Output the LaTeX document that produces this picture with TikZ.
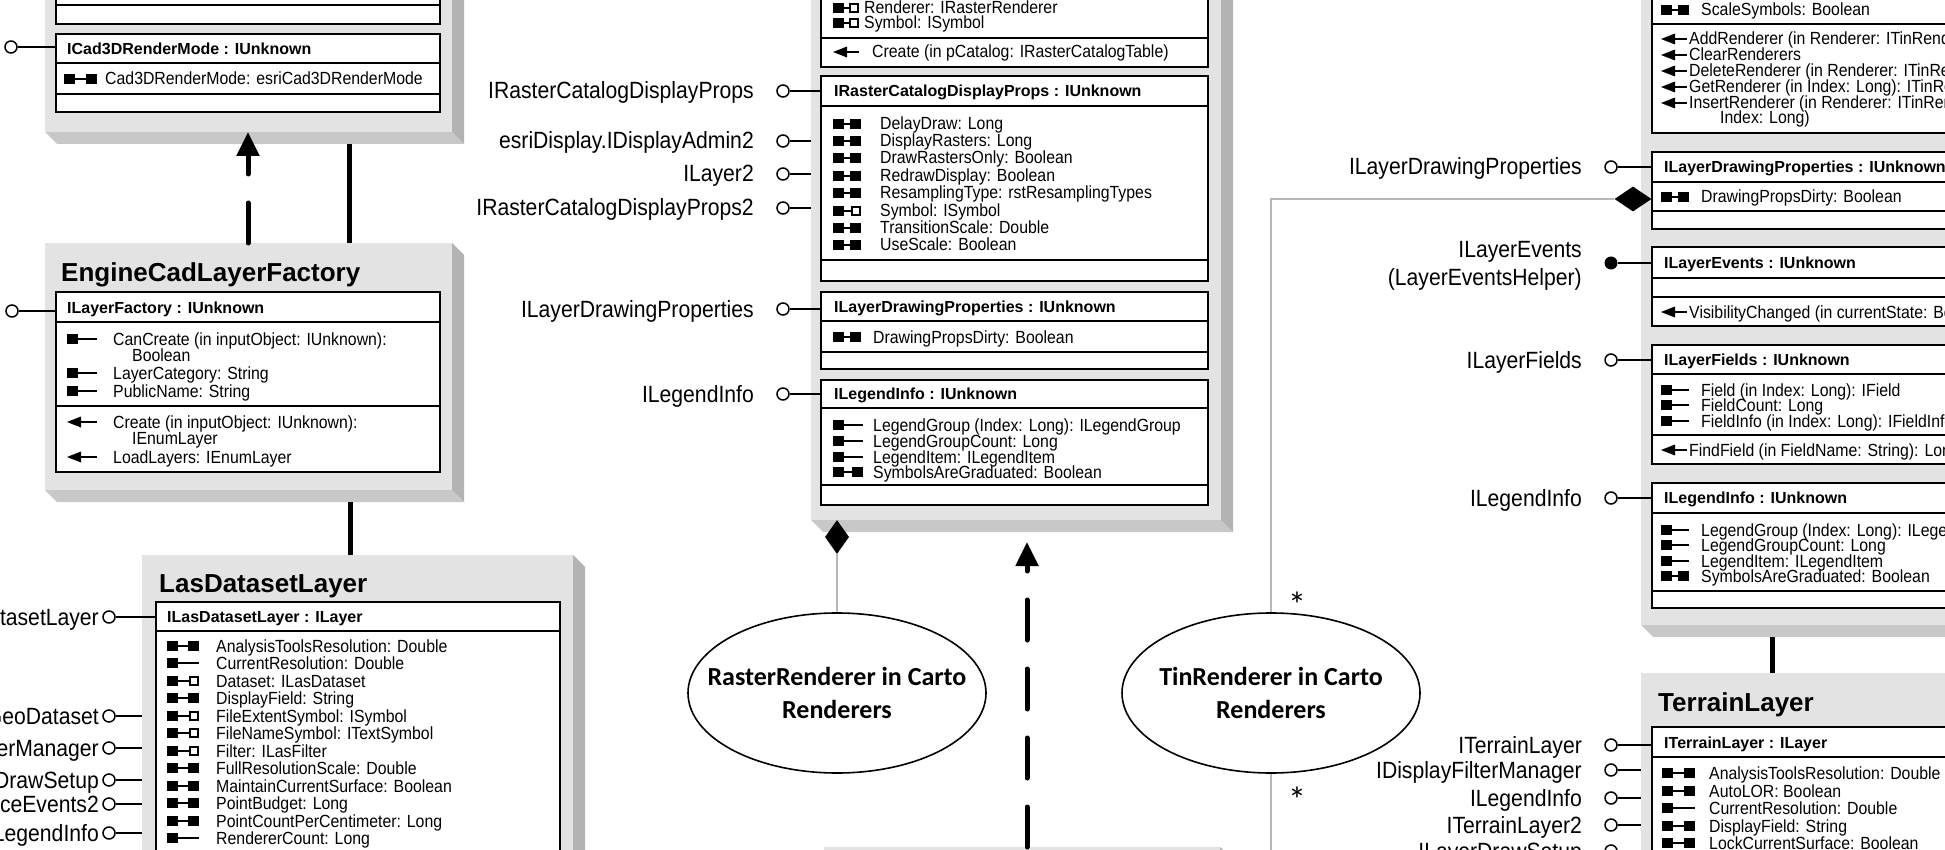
\documentclass[tikz,border=0pt]{standalone}
\usepackage{fontspec}
\setmainfont{Liberation Sans}
\newfontfamily\narf[FakeStretch=0.9]{Liberation Sans}
\newfontfamily\calf{Carlito}
\usetikzlibrary{shapes.geometric,arrows.meta}
\definecolor{faceC}{HTML}{E3E3E3}
\definecolor{shRC}{HTML}{B3B3B3}
\definecolor{shBC}{HTML}{C8C8C8}
\definecolor{assocC}{HTML}{B8B8B8}
% face box with 3D shadow: name x0 y0 x1 y1
\newcommand\uBox[5]{%
  \fill[shBC] (#2,#5) -- (#2+12,#5+12) -- (#4+12,#5+12) -- (#4,#5) -- cycle;
  \fill[shRC] (#4,#3) -- (#4+12,#3+12) -- (#4+12,#5+12) -- (#4,#5) -- cycle;
  \node[face,anchor=north west,minimum width={(#4-#2)*1pt},minimum height={(#5-#3)*1pt}] (#1) at (#2,#3) {};}
\newcommand\uComp[5]{\node[comp,anchor=north west,minimum width={(#4-#2)*1pt},minimum height={(#5-#3)*1pt}] (#1) at (#2,#3) {};}
\newcommand\uSep[3]{\draw[sepl] (#1,#3) -- (#2,#3);}
% icons: x y w
\newcommand\uIcrw[3]{%
  \fill (#1,#2-5) rectangle (#1+11,#2+5);
  \fill (#1+#3-11,#2-5) rectangle (#1+#3,#2+5);
  \draw[line width=2pt] (#1+10,#2) -- (#1+#3-10,#2);}
\newcommand\uIcro[3]{%
  \fill (#1,#2-5) rectangle (#1+11,#2+5);
  \draw[line width=2pt] (#1+10,#2) -- (#1+#3,#2);}
\newcommand\uIcrp[3]{%
  \fill (#1,#2-5) rectangle (#1+11,#2+5);
  \draw[line width=2pt] (#1+10,#2) -- (#1+#3-9,#2);
  \draw[line width=1.5pt,fill=white] (#1+#3-9.2,#2-4.2) rectangle (#1+#3-0.8,#2+4.2);}
\newcommand\uIcme[3]{%
  \fill (#1,#2) -- (#1+14,#2-5.5) -- (#1+14,#2+5.5) -- cycle;
  \draw[line width=2pt] (#1+12,#2) -- (#1+#3,#2);}
% row: name type iconx iconw y textx text
\newcommand\uRow[7]{\csname uIc#2\endcsname{#3}{#5}{#4}\node[mem] (#1) at (#6,#5+6) {#7};}
\newcommand\uHdr[4]{\node[hdr] (#1) at (#2,#3+5.5) {#4};}
% lollipop: name labelEndX circleX y target label style
\newcommand\uLol[7]{%
  \node[#7] (#1c) at (#3,#4) {};
  \draw[wire] (#1c) -- (#5.west |- #1c);
  \node[lbl] (#1l) at (#2,#4+8) {#6};}
\begin{document}
\begin{tikzpicture}[x=1pt,y=-1pt,
  face/.style={fill=faceC,draw=none,inner sep=0pt,outer sep=0pt},
  comp/.style={fill=white,draw=black,line width=1.6pt,inner sep=0pt,outer sep=0pt},
  sepl/.style={line width=1.6pt},
  mem/.style={font=\narf\fontsize{17.6}{17.6}\selectfont,inner sep=0pt,anchor=base west},
  hdr/.style={font=\bfseries\fontsize{16}{16}\selectfont,inner sep=0pt,anchor=base west},
  lbl/.style={font=\narf\fontsize{23.5}{23.5}\selectfont,inner sep=0pt,anchor=base east},
  ttl/.style={font=\bfseries\fontsize{26}{26}\selectfont,inner sep=0pt,anchor=base west},
  lol/.style={circle,draw=black,fill=white,line width=1.5pt,minimum size=12pt,inner sep=0pt},
  lolf/.style={circle,fill=black,minimum size=13pt,inner sep=0pt},
  wire/.style={line width=1.6pt},
  assoc/.style={draw=assocC,line width=2.6pt},
  inh/.style={line width=5pt,line cap=round,dash pattern=on 40pt off 29pt},
  solidlink/.style={line width=5pt},
  ell/.style={ellipse,draw=black,line width=1.6pt,fill=white,inner sep=0pt,minimum width=298pt,minimum height=160pt},
  etxt/.style={font=\calf\bfseries\fontsize{26}{33}\selectfont,align=center,inner sep=0pt},
  dia/.style={diamond,fill=black,inner sep=0pt},
  mult/.style={font=\calf\fontsize{36}{36}\selectfont,inner sep=0pt,anchor=base}]
\useasboundingbox (0,0) rectangle (1945,850);
\fill[white] (0,0) rectangle (1945,850);

%================ LEFT COLUMN =================
\uBox{cad}{45}{-60}{452}{132}
\uComp{cadtop}{56}{-40}{440}{24}
\uSep{56}{440}{5}
\uComp{cadrm}{56}{34}{440}{112}
\uSep{56}{440}{63}
\uSep{56}{440}{94}
\uHdr{cadrmh}{67}{49}{ICad3DRenderMode : IUnknown}
\uRow{cadr1}{rw}{64}{33}{79}{105}{Cad3DRenderMode: esriCad3DRenderMode}
\node[lol] (cadlc) at (11,47) {};
\draw[wire] (cadlc) -- (cadrm.west |- cadlc);

\uBox{eng}{45}{243}{452}{490}
\node[ttl] (engt) at (61,281) {EngineCadLayerFactory};
\uComp{engi}{56}{292}{440}{472}
\uSep{56}{440}{322}
\uSep{56}{440}{406}
\uHdr{engh}{67}{308}{ILayerFactory : IUnknown}
\uRow{engr1}{ro}{67}{30}{339}{113}{CanCreate (in inputObject: IUnknown):}
\node[mem] (engr1b) at (132,355+6) {Boolean};
\uRow{engr2}{ro}{67}{30}{373}{113}{LayerCategory: String}
\uRow{engr3}{ro}{67}{30}{391}{113}{PublicName: String}
\uRow{engm1}{me}{67}{30}{422}{113}{Create (in inputObject: IUnknown):}
\node[mem] (engm1b) at (132,438+6) {IEnumLayer};
\uRow{engm2}{me}{67}{30}{457}{113}{LoadLayers: IEnumLayer}
\node[lol] (englc) at (12,311) {};
\draw[wire] (englc) -- (engi.west |- englc);

% links between left boxes
\coordinate (xA) at (248,0);
\coordinate (xB) at (349,0);
\draw[inh,-{Triangle[length=24pt,width=22pt]}] (eng.north -| xA) -- (cad.south -| xA);
\draw[solidlink] (eng.north -| xB) -- ([yshift=-12pt]cad.south -| xB);

\uBox{las}{142}{555}{573}{900}
\node[ttl] (last) at (159,592) {LasDatasetLayer};
\uComp{lasi}{156}{602}{560}{880}
\uSep{156}{560}{631}
\uHdr{lash}{167}{617}{ILasDatasetLayer : ILayer}
\uRow{lasr1}{rw}{167}{32}{646}{216}{AnalysisToolsResolution: Double}
\uRow{lasr2}{ro}{167}{32}{663}{216}{CurrentResolution: Double}
\uRow{lasr3}{rp}{167}{32}{681}{216}{Dataset: ILasDataset}
\uRow{lasr4}{rw}{167}{32}{698}{216}{DisplayField: String}
\uRow{lasr5}{rp}{167}{32}{716}{216}{FileExtentSymbol: ISymbol}
\uRow{lasr6}{rp}{167}{32}{733}{216}{FileNameSymbol: ITextSymbol}
\uRow{lasr7}{rp}{167}{32}{751}{216}{Filter: ILasFilter}
\uRow{lasr8}{rw}{167}{32}{768}{216}{FullResolutionScale: Double}
\uRow{lasr9}{rw}{167}{32}{786}{216}{MaintainCurrentSurface: Boolean}
\uRow{lasr10}{rw}{167}{32}{803}{216}{PointBudget: Long}
\uRow{lasr11}{rw}{167}{32}{821}{216}{PointCountPerCentimeter: Long}
\uRow{lasr12}{ro}{167}{32}{838}{216}{RendererCount: Long}
\uLol{lasl1}{99}{109}{617}{lasi}{ILasDatasetLayer}{lol}
\uLol{lasl2}{99}{109}{716}{las}{IGeoDataset}{lol}
\uLol{lasl3}{99}{109}{748}{las}{IDisplayFilterManager}{lol}
\uLol{lasl4}{99}{109}{780}{las}{ILayerDrawSetup}{lol}
\uLol{lasl5}{99}{109}{804}{las}{ISurfaceEvents2}{lol}
\uLol{lasl6}{99}{109}{833}{las}{ILegendInfo}{lol}
\coordinate (xC) at (350,0);
\draw[solidlink] (las.north -| xC) -- ([yshift=-12pt]eng.south -| xC);

%================ CENTER COLUMN =================
\uBox{rcl}{811}{-60}{1221}{520}
\uComp{rtop}{821}{-40}{1208}{67}
\uSep{821}{1208}{38}
\uRow{rtr1}{rp}{833}{26}{8}{864}{Renderer: IRasterRenderer}
\uRow{rtr2}{rp}{833}{26}{23}{864}{Symbol: ISymbol}
\uRow{rtm1}{me}{833}{26}{52}{872}{Create (in pCatalog: IRasterCatalogTable)}

\uComp{rdp}{821}{76}{1208}{281}
\uSep{821}{1208}{106}
\uSep{821}{1208}{260}
\uHdr{rdph}{834}{91}{IRasterCatalogDisplayProps : IUnknown}
\uRow{rdp1}{rw}{833}{28}{124}{880}{DelayDraw: Long}
\uRow{rdp2}{rw}{833}{28}{141}{880}{DisplayRasters: Long}
\uRow{rdp3}{rw}{833}{28}{158}{880}{DrawRastersOnly: Boolean}
\uRow{rdp4}{rw}{833}{28}{176}{880}{RedrawDisplay: Boolean}
\uRow{rdp5}{rw}{833}{28}{193}{880}{ResamplingType: rstResamplingTypes}
\uRow{rdp6}{rp}{833}{28}{211}{880}{Symbol: ISymbol}
\uRow{rdp7}{rw}{833}{28}{228}{880}{TransitionScale: Double}
\uRow{rdp8}{rw}{833}{28}{245}{880}{UseScale: Boolean}

\uComp{rld}{821}{292}{1208}{369}
\uSep{821}{1208}{321}
\uSep{821}{1208}{352}
\uHdr{rldh}{834}{307}{ILayerDrawingProperties : IUnknown}
\uRow{rld1}{rw}{833}{28}{337}{873}{DrawingPropsDirty: Boolean}

\uComp{rli}{821}{380}{1208}{505}
\uSep{821}{1208}{408}
\uSep{821}{1208}{485}
\uHdr{rlih}{834}{394}{ILegendInfo : IUnknown}
\uRow{rli1}{ro}{833}{30}{425}{873}{LegendGroup (Index: Long): ILegendGroup}
\uRow{rli2}{ro}{833}{30}{441}{873}{LegendGroupCount: Long}
\uRow{rli3}{ro}{833}{30}{457}{873}{LegendItem: ILegendItem}
\uRow{rli4}{rw}{833}{30}{472}{873}{SymbolsAreGraduated: Boolean}

\uLol{rcl1}{754}{783}{91}{rdp}{IRasterCatalogDisplayProps}{lol}
\uLol{rcl2}{754}{783}{141}{rcl}{esriDisplay.IDisplayAdmin2}{lol}
\uLol{rcl3}{754}{783}{174}{rcl}{ILayer2}{lol}
\uLol{rcl4}{754}{783}{208}{rcl}{IRasterCatalogDisplayProps2}{lol}
\uLol{rcl5}{754}{783}{309}{rld}{ILayerDrawingProperties}{lol}
\uLol{rcl6}{754}{783}{394}{rli}{ILegendInfo}{lol}

% renderers
\node[dia,minimum width=24pt,minimum height=34pt] (rdia) at (837,537) {};
\node[ell] (rre) at (837,693) {};
\node[etxt] (rret) at (rre.center) {RasterRenderer in Carto\\Renderers};
\draw[assoc] (rdia.south) -- (rre.north);

\uBox{bot}{824}{847}{1220}{1000}
\coordinate (xD) at (1027,0);
\draw[inh,-{Triangle[length=24pt,width=22pt]}] (bot.north -| xD) -- ([yshift=-22pt]rcl.south -| xD);

%================ RIGHT COLUMN =================
\uBox{tin}{1641}{-60}{2050}{625}
\uComp{ttop}{1652}{-40}{2050}{133}
\uSep{1652}{2050}{24}
\uRow{ttr1}{rw}{1661}{28}{10}{1701}{ScaleSymbols: Boolean}
\uRow{ttm1}{me}{1661}{26}{39}{1689}{AddRenderer (in Renderer: ITinRenderer)}
\uRow{ttm2}{me}{1661}{26}{55}{1689}{ClearRenderers}
\uRow{ttm3}{me}{1661}{26}{71}{1689}{DeleteRenderer (in Renderer: ITinRenderer)}
\uRow{ttm4}{me}{1661}{26}{87}{1689}{GetRenderer (in Index: Long): ITinRenderer}
\uRow{ttm5}{me}{1661}{26}{103}{1689}{InsertRenderer (in Renderer: ITinRenderer,}
\node[mem] (ttm5b) at (1720,118+6) {Index: Long)};

\uComp{tld}{1652}{152}{2050}{229}
\uSep{1652}{2050}{182}
\uSep{1652}{2050}{211}
\uHdr{tldh}{1664}{167}{ILayerDrawingProperties : IUnknown}
\uRow{tld1}{rw}{1661}{28}{197}{1701}{DrawingPropsDirty: Boolean}

\uComp{tle}{1652}{247}{2050}{326}
\uSep{1652}{2050}{278}
\uSep{1652}{2050}{297}
\uHdr{tleh}{1664}{263}{ILayerEvents : IUnknown}
\uRow{tle1}{me}{1661}{26}{312}{1689}{VisibilityChanged (in currentState: Boolean)}

\uComp{tlf}{1652}{345}{2050}{464}
\uSep{1652}{2050}{374}
\uSep{1652}{2050}{435}
\uHdr{tlfh}{1664}{360}{ILayerFields : IUnknown}
\uRow{tlf1}{ro}{1661}{28}{390}{1701}{Field (in Index: Long): IField}
\uRow{tlf2}{ro}{1661}{28}{405}{1701}{FieldCount: Long}
\uRow{tlf3}{ro}{1661}{28}{421}{1701}{FieldInfo (in Index: Long): IFieldInfo}
\uRow{tlf4}{me}{1661}{26}{450}{1689}{FindField (in FieldName: String): Long}

\uComp{tli}{1652}{483}{2050}{608}
\uSep{1652}{2050}{513}
\uSep{1652}{2050}{591}
\uHdr{tlih}{1664}{498}{ILegendInfo : IUnknown}
\uRow{tli1}{ro}{1661}{28}{530}{1701}{LegendGroup (Index: Long): ILegendGroup}
\uRow{tli2}{ro}{1661}{28}{545}{1701}{LegendGroupCount: Long}
\uRow{tli3}{ro}{1661}{28}{561}{1701}{LegendItem: ILegendItem}
\uRow{tli4}{rw}{1661}{28}{576}{1701}{SymbolsAreGraduated: Boolean}

\uLol{tinl1}{1582}{1611}{167}{tld}{ILayerDrawingProperties}{lol}
\node[lolf] (tinl2c) at (1611,263) {};
\draw[wire] (tinl2c) -- (tle.west |- tinl2c);
\node[lbl] (tinl2a) at (1582,250+8) {ILayerEvents};
\node[lbl] (tinl2b) at (1582,277+8) {(LayerEventsHelper)};
\uLol{tinl3}{1582}{1611}{360}{tlf}{ILayerFields}{lol}
\uLol{tinl4}{1582}{1611}{498}{tli}{ILegendInfo}{lol}

\uBox{ter}{1641}{673}{2050}{950}
\node[ttl] (tert) at (1658,711) {TerrainLayer};
\uComp{teri}{1652}{727}{2050}{950}
\uSep{1652}{2050}{757}
\uHdr{terh}{1664}{743}{ITerrainLayer : ILayer}
\uRow{terr1}{rw}{1662}{33}{773}{1709}{AnalysisToolsResolution: Double}
\uRow{terr2}{rw}{1662}{33}{791}{1709}{AutoLOR: Boolean}
\uRow{terr3}{ro}{1662}{33}{808}{1709}{CurrentResolution: Double}
\uRow{terr4}{rw}{1662}{33}{826}{1709}{DisplayField: String}
\uRow{terr5}{rw}{1662}{33}{843}{1709}{LockCurrentSurface: Boolean}
\uLol{terl1}{1582}{1611}{745}{teri}{ITerrainLayer}{lol}
\uLol{terl2}{1582}{1611}{770}{ter}{IDisplayFilterManager}{lol}
\uLol{terl3}{1582}{1611}{798}{ter}{ILegendInfo}{lol}
\uLol{terl4}{1582}{1611}{825}{ter}{ITerrainLayer2}{lol}
\uLol{terl5}{1582}{1611}{851}{ter}{ILayerDrawSetup}{lol}

\coordinate (xE) at (1772,0);
\draw[solidlink] (ter.north -| xE) -- ([yshift=-12pt]tin.south -| xE);

% TinRenderer association
\node[dia,minimum width=37pt,minimum height=25pt] (tdia) at (1633,199) {};
\node[ell] (tre) at (1271,693) {};
\node[etxt] (tret) at (tre.center) {TinRenderer in Carto\\Renderers};
\draw[assoc] (tdia.west) -- (tdia.west -| tre.north) -- (tre.north);
\coordinate (treEnd) at (1271,870);
\draw[assoc] (tre.south) -- (treEnd);
\node[mult] (m1) at (1297,617) {*};
\node[mult] (m2) at (1297,812) {*};
\end{tikzpicture}
\end{document}
